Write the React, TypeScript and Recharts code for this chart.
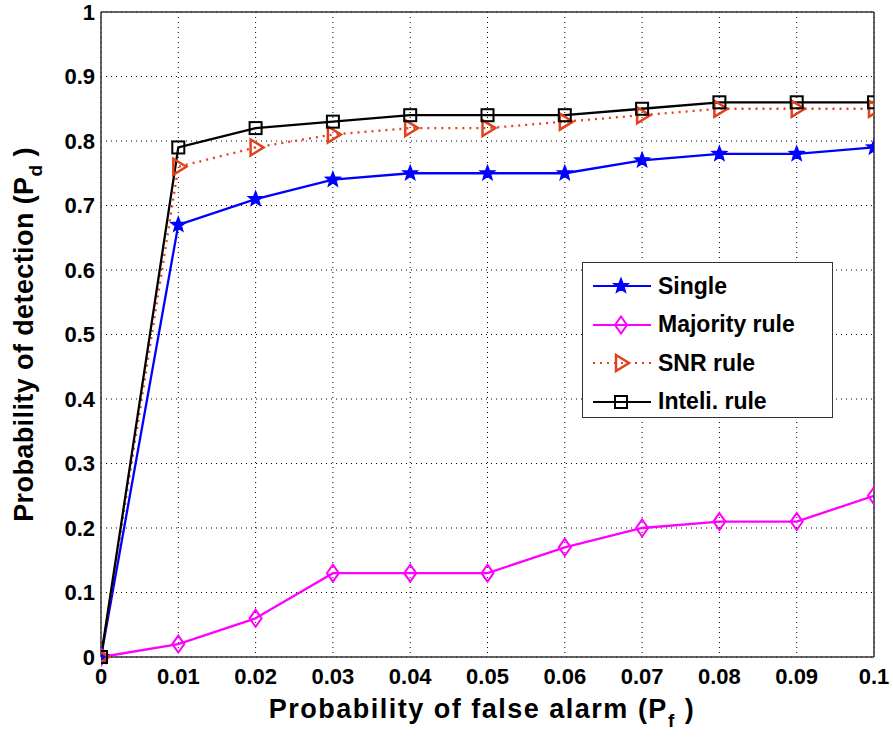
import { CartesianGrid, Legend, Line, LineChart, XAxis, YAxis } from "recharts";

// probability of false alarm (x)
const pf = [0, 0.01, 0.02, 0.03, 0.04, 0.05, 0.06, 0.07, 0.08, 0.09, 0.1];

// probability of detection per scheme
const single = [0, 0.67, 0.71, 0.74, 0.75, 0.75, 0.75, 0.77, 0.78, 0.78, 0.79];
const majority = [0, 0.02, 0.06, 0.13, 0.13, 0.13, 0.17, 0.2, 0.21, 0.21, 0.25];
const snr = [0, 0.76, 0.79, 0.81, 0.82, 0.82, 0.83, 0.84, 0.85, 0.85, 0.85];
const inteli = [0, 0.79, 0.82, 0.83, 0.84, 0.84, 0.84, 0.85, 0.86, 0.86, 0.86];

const xTicks = [0, 0.01, 0.02, 0.03, 0.04, 0.05, 0.06, 0.07, 0.08, 0.09, 0.1];
const yTicks = [0, 0.1, 0.2, 0.3, 0.4, 0.5, 0.6, 0.7, 0.8, 0.9, 1];

const seriesNames = ["Single", "Majority rule", "SNR rule", "Inteli. rule"];

const chartData = pf.map((x, i) => ({
  pf: x,
  single: single[i],
  majority: majority[i],
  snr: snr[i],
  inteli: inteli[i],
}));

const FONT = "'Liberation Sans', Arial, sans-serif";
const BLUE = "#0000ff";
const MAGENTA = "#ff00ff";
const ORANGE = "#e3401c";

type MarkerProps = { cx: number; cy: number; color: string };

const Star = ({ cx, cy, color }: MarkerProps) => {
  const pts: string[] = [];
  for (let k = 0; k < 10; k++) {
    const r = k % 2 === 0 ? 7.5 : 3.2;
    const a = -Math.PI / 2 + (k * Math.PI) / 5;
    pts.push(`${cx + r * Math.cos(a)},${cy + r * Math.sin(a)}`);
  }
  return <polygon points={pts.join(" ")} fill={color} stroke={color} strokeWidth={1.5} />;
};

const Diamond = ({ cx, cy, color }: MarkerProps) => (
  <polygon
    points={`${cx},${cy - 8.5} ${cx + 6},${cy} ${cx},${cy + 8.5} ${cx - 6},${cy}`}
    fill="none"
    stroke={color}
    strokeWidth={2}
  />
);

const TriRight = ({ cx, cy, color }: MarkerProps) => (
  <polygon
    points={`${cx - 5},${cy - 8} ${cx + 8},${cy} ${cx - 5},${cy + 8}`}
    fill="none"
    stroke={color}
    strokeWidth={2.5}
  />
);

const Square = ({ cx, cy, color }: MarkerProps) => (
  <rect x={cx - 6} y={cy - 6} width={12} height={12} fill="none" stroke={color} strokeWidth={2} />
);

const markers = [
  { Marker: Star, color: BLUE, dash: undefined },
  { Marker: Diamond, color: MAGENTA, dash: undefined },
  { Marker: TriRight, color: ORANGE, dash: "2 5" },
  { Marker: Square, color: "#000", dash: undefined },
];

const makeDot = (idx: number) => (props: any) => {
  const { Marker, color } = markers[idx];
  return (
    <g key={`m-${idx}-${props.index}`}>
      <Marker cx={props.cx} cy={props.cy} color={color} />
    </g>
  );
};

const LegendBox = () => (
  <div
    style={{
      width: 251,
      height: 156,
      boxSizing: "border-box",
      border: "1.5px solid #333",
      background: "#fff",
      padding: "4px 0 0 8px",
      fontFamily: FONT,
      fontWeight: "bold",
      fontSize: 23,
      color: "#000",
      textAlign: "left",
    }}
  >
    {seriesNames.map((name, i) => {
      const { Marker, color, dash } = markers[i];
      return (
        <div key={name} style={{ display: "flex", alignItems: "center", height: 38.5 }}>
          <svg width={62} height={20} style={{ flex: "none" }}>
            <line x1={2} y1={10} x2={60} y2={10} stroke={color} strokeWidth={2.2} strokeDasharray={dash} />
            <Marker cx={30} cy={10} color={color} />
          </svg>
          <span style={{ marginLeft: 5, whiteSpace: "nowrap" }}>{name}</span>
        </div>
      );
    })}
  </div>
);

const tickStyle = { fontFamily: FONT, fontWeight: "bold", fontSize: 22, fill: "#000" };

export default function App() {
  return (
    <div style={{ position: "absolute", left: 0, top: 0, background: "#fff" }}>
      <LineChart
        width={893}
        height={738}
        data={chartData}
        margin={{ top: 12, right: 19, left: 0, bottom: 0 }}
      >
        <CartesianGrid stroke="#000" strokeDasharray="1 4" strokeWidth={1} />
        <XAxis
          dataKey="pf"
          type="number"
          domain={[0, 0.1]}
          ticks={xTicks}
          interval={0}
          allowDataOverflow
          height={81}
          tickLine={false}
          axisLine={{ stroke: "#333", strokeWidth: 1.5 }}
          tick={tickStyle}
          tickMargin={5}
          tickFormatter={(v: number) => String(v)}
          label={{
            content: () => (
              <text
                x={482}
                y={718}
                textAnchor="middle"
                style={{ fontFamily: FONT, fontWeight: "bold", fontSize: 27, letterSpacing: 1.5 }}
                fill="#000"
              >
                Probability of false alarm (P
                <tspan fontSize={19} dy={9}>f</tspan>
                <tspan dy={-9}> )</tspan>
              </text>
            ),
          }}
        />
        <YAxis
          type="number"
          domain={[0, 1]}
          ticks={yTicks}
          interval={0}
          width={101}
          tickLine={false}
          axisLine={{ stroke: "#333", strokeWidth: 1.5 }}
          tick={tickStyle}
          tickMargin={0}
          tickFormatter={(v: number) => String(v)}
          label={{
            content: (p: any) => {
              const vb = p.viewBox;
              const cx = 33;
              const cy = vb.y + vb.height / 2;
              return (
                <text
                  x={cx}
                  y={cy}
                  transform={`rotate(-90 ${cx} ${cy})`}
                  textAnchor="middle"
                  style={{ fontFamily: FONT, fontWeight: "bold", fontSize: 27, letterSpacing: 0.4 }}
                  fill="#000"
                >
                  Probability of detection (P
                  <tspan fontSize={19} dy={9}>d</tspan>
                  <tspan dy={-9}> )</tspan>
                </text>
              );
            },
          }}
        />
        {/* inward tick marks and box edges */}
        <XAxis xAxisId="bm" dataKey="pf" type="number" domain={[0, 0.1]} ticks={xTicks} interval={0} mirror tick={false} tickSize={6} axisLine={false} tickLine={{ stroke: "#333" }} />
        <XAxis xAxisId="top" orientation="top" dataKey="pf" type="number" domain={[0, 0.1]} ticks={xTicks} interval={0} mirror tick={false} tickSize={6} axisLine={{ stroke: "#333", strokeWidth: 1.5 }} tickLine={{ stroke: "#333" }} />
        <YAxis yAxisId="lm" type="number" domain={[0, 1]} ticks={yTicks} interval={0} mirror tick={false} tickSize={6} axisLine={false} tickLine={{ stroke: "#333" }} />
        <YAxis yAxisId="right" orientation="right" type="number" domain={[0, 1]} ticks={yTicks} interval={0} mirror tick={false} tickSize={6} axisLine={{ stroke: "#333", strokeWidth: 1.5 }} tickLine={{ stroke: "#333" }} />
        <Line dataKey="single" name={seriesNames[0]} stroke={BLUE} strokeWidth={2.3} dot={makeDot(0)} isAnimationActive={false} />
        <Line dataKey="majority" name={seriesNames[1]} stroke={MAGENTA} strokeWidth={2.3} dot={makeDot(1)} isAnimationActive={false} />
        <Line dataKey="snr" name={seriesNames[2]} stroke={ORANGE} strokeWidth={2.3} strokeDasharray="2 5" dot={makeDot(2)} isAnimationActive={false} />
        <Line dataKey="inteli" name={seriesNames[3]} stroke="#000" strokeWidth={2.3} dot={makeDot(3)} isAnimationActive={false} />
        <Legend
          layout="horizontal"
          verticalAlign="middle"
          align="center"
          content={() => <LegendBox />}
          wrapperStyle={{ position: "absolute", left: 582, top: 262, width: 251, height: 156 }}
        />
      </LineChart>
    </div>
  );
}
